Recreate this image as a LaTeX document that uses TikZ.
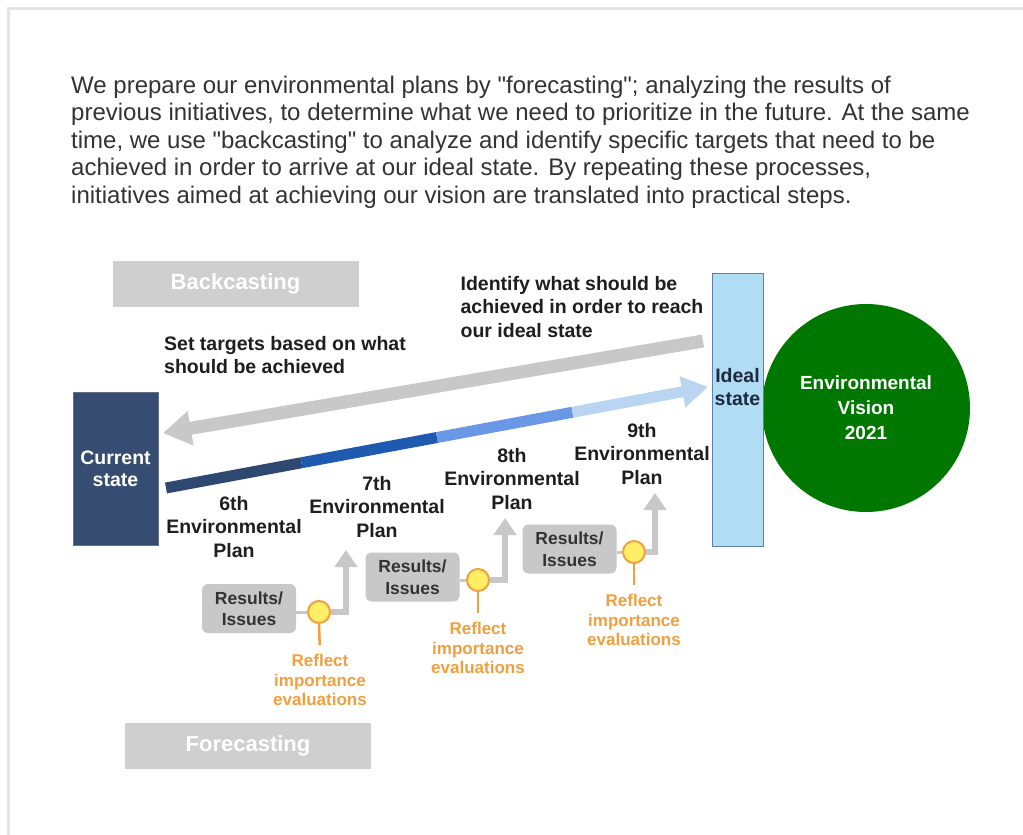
\documentclass[tikz,border=0pt]{standalone}
\usepackage{fontspec}
\setmainfont{Liberation Sans}[Ligatures=TeXOff]
\usetikzlibrary{arrows.meta,calc}
\definecolor{paratxt}{HTML}{333333}
\definecolor{labtxt}{HTML}{1E1E1E}
\definecolor{boxgray}{HTML}{CFCFCF}
\definecolor{argray}{HTML}{C8C8C8}
\definecolor{curnavy}{HTML}{364C70}
\definecolor{segA}{HTML}{2E4872}
\definecolor{segB}{HTML}{1E5BB0}
\definecolor{segC}{HTML}{6A98E6}
\definecolor{segD}{HTML}{BAD5F2}
\definecolor{idealfill}{HTML}{B0DCF4}
\definecolor{idealdraw}{HTML}{5E7FA6}
\definecolor{idealtxt}{HTML}{1E2A40}
\definecolor{vgreen}{HTML}{007800}
\definecolor{orng}{HTML}{F0A040}
\definecolor{yel}{HTML}{FFEE66}
\definecolor{framec}{HTML}{E4E4E4}
\newcommand{\fpara}{\fontsize{24}{27.5}\selectfont}
\newcommand{\flab}{\fontsize{19.5}{23.3}\selectfont\bfseries}
\newcommand{\fres}{\fontsize{17.5}{21.5}\selectfont\bfseries}
\newcommand{\forg}{\fontsize{17}{19.5}\selectfont\bfseries}
\newcommand{\fbig}{\fontsize{22}{26}\selectfont\bfseries}
\begin{document}
\begin{tikzpicture}[x=1pt,y=-1pt,
  para/.style={font=\fpara, text=paratxt, align=left, inner sep=0pt},
  lab/.style={font=\flab, text=labtxt, inner sep=0pt},
  castbox/.style={fill=boxgray, text=white, font=\fbig, minimum width=246pt, minimum height=46pt, inner sep=0pt},
  resbox/.style={fill=argray, rounded corners=6pt, text=paratxt, font=\fres, align=center, minimum width=94pt, minimum height=49pt, inner sep=0pt},
  dot/.style={circle, fill=yel, draw=orng, line width=2pt, minimum size=22pt, inner sep=0pt},
  refl/.style={font=\forg, text=orng, align=center, inner sep=0pt},
  stem/.style={draw=orng, line width=2.5pt},
  thinlink/.style={draw=argray, line width=3pt},
  uparrow/.style={draw=argray, line width=6pt, -{Triangle[length=17pt,width=22pt]}},
  fwd/.style={line width=11pt}
]
\useasboundingbox (0,0) rectangle (1023,835);
\fill[white] (0,0) rectangle (1023,835);
\draw[framec, line width=2.5pt] (8.5,835) -- (8.5,8.5) -- (1023,8.5);

\node[para, anchor=west] (intro) at (71,142) {We prepare our environmental plans by "forecasting"; analyzing the results of\\previous initiatives, to determine what we need to prioritize in the future. At the same\\time, we use "backcasting" to analyze and identify specific targets that need to be\\achieved in order to arrive at our ideal state. By repeating these processes,\\initiatives aimed at achieving our vision are translated into practical steps.};

% casting boxes
\node[castbox] (back) at (235.5,284) {Backcasting};
\node[castbox] (fore) at (248,746) {Forecasting};

% states
\node[fill=curnavy, draw=curnavy!80!white, line width=1pt, minimum width=85pt, minimum height=153pt, text=white, font=\flab, align=center, inner sep=0pt] (cur) at (115.5,468.5) {Current\\[-1pt]state};
\node[circle, fill=vgreen, minimum size=208pt, inner sep=0pt, text=white, font=\fontsize{19}{25}\selectfont\bfseries, align=center] (vision) at (866,408) {Environmental\\Vision\\2021};
\node[fill=idealfill, draw=idealdraw, line width=1pt, minimum width=51pt, minimum height=273pt, inner sep=0pt] (ideal) at (737.5,409.5) {};
\node[font=\flab, text=idealtxt, align=center, inner sep=0pt] (idealtext) at (737.5,387) {Ideal\\[-1pt]state};

% backcasting arrow
\coordinate (bstart) at (703,341);
\coordinate (bend) at (163,433);
\draw[argray, line width=13pt, -{Triangle[length=28pt,width=33pt]}] (bstart) -- (bend);

% forecasting progression
\coordinate (fs) at (166,488);
\coordinate (fe) at (708,387);
\draw[fwd, segA] (fs) -- ($(fs)!0.25!(fe)$);
\draw[fwd, segB] ($(fs)!0.25!(fe)$) -- ($(fs)!0.5!(fe)$);
\draw[fwd, segC] ($(fs)!0.5!(fe)$) -- ($(fs)!0.75!(fe)$);
\draw[fwd, segD, -{Triangle[length=26pt,width=30pt]}] ($(fs)!0.75!(fe)$) -- (fe);

% labels
\node[lab, align=left] (identify) at (582,307) {Identify what should be\\achieved in order to reach\\our ideal state};
\node[lab, align=left, anchor=west] (settarget) at (164,355) {Set targets based on what\\should be achieved};

\node[lab, align=center] (plan6) at (234,527) {6th\\Environmental\\Plan};
\node[lab, align=center] (plan7) at (377,507) {7th\\Environmental\\Plan};
\node[lab, align=center] (plan8) at (512,479) {8th\\Environmental\\Plan};
\node[lab, align=center] (plan9) at (642,454) {9th\\Environmental\\Plan};

% results / issues
\node[resbox] (res1) at (249,608.5) {Results/\\Issues};
\node[resbox] (res2) at (412.5,577) {Results/\\Issues};
\node[resbox] (res3) at (569.5,549) {Results/\\Issues};

\node[dot] (dot1) at (319,612) {};
\node[dot] (dot2) at (478,580) {};
\node[dot] (dot3) at (634,552) {};

\draw[thinlink] (res1.east |- dot1) -- (dot1.west);
\draw[thinlink] (res2.east |- dot2) -- (dot2.west);
\draw[thinlink] (res3.east |- dot3) -- (dot3.west);

\coordinate (up1) at (346,550);
\coordinate (up2) at (505,518);
\coordinate (up3) at (655,493);
\draw[uparrow] (dot1.east) -| (up1);
\draw[uparrow] (dot2.east) -| (up2);
\draw[uparrow] (dot3.east) -| (up3);

\node[refl] (ref1) at (320,680) {Reflect\\importance\\evaluations};
\node[refl] (ref2) at (478,648) {Reflect\\importance\\evaluations};
\node[refl] (ref3) at (634,620) {Reflect\\importance\\evaluations};

\draw[stem, shorten >=9pt] (dot1.south) -- (ref1.north);
\draw[stem, shorten >=9pt] (dot2.south) -- (ref2.north);
\draw[stem, shorten >=9pt] (dot3.south) -- (ref3.north);
\end{tikzpicture}
\end{document}
